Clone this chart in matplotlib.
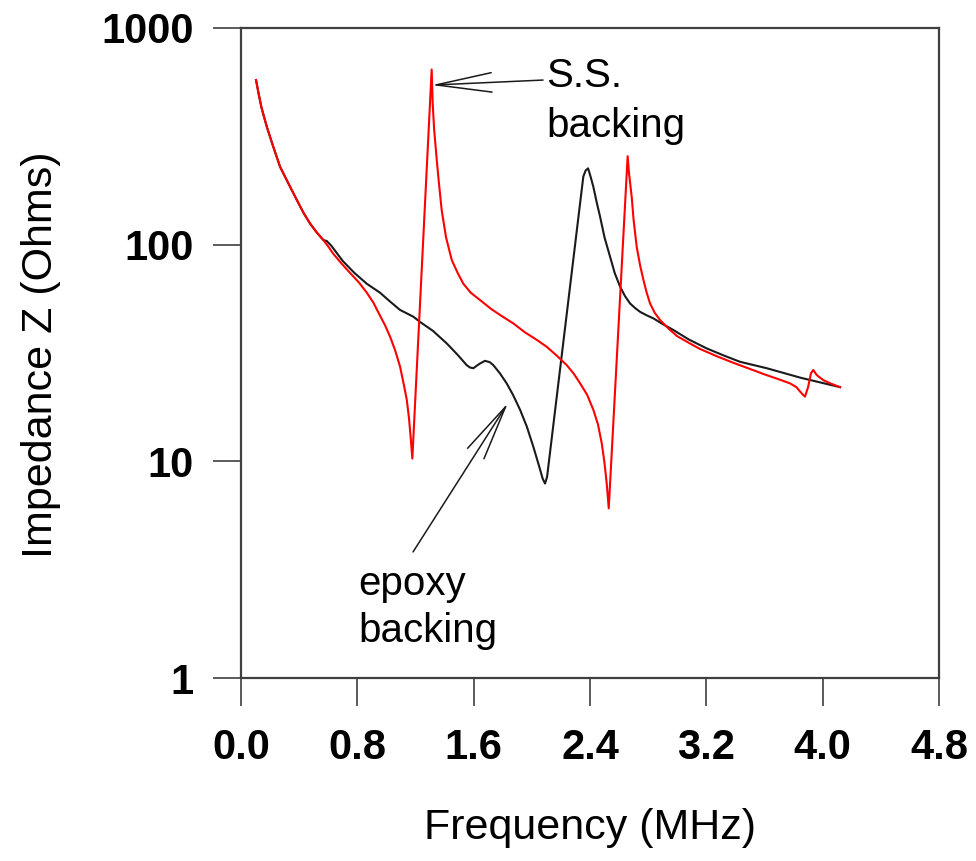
"""
plot.py — electrical impedance of a transducer vs frequency, epoxy vs S.S. backing.

Values read off the reference figure (log-scale impedance).
"""
import matplotlib
matplotlib.use("Agg")
import matplotlib.pyplot as plt
from matplotlib.ticker import FixedLocator, NullLocator, FixedFormatter

# --- epoxy backing (black) ---
freq_epoxy = [0.103, 0.12, 0.14, 0.177, 0.22, 0.268, 0.32, 0.383, 0.43, 0.475,
              0.52, 0.566, 0.589, 0.62, 0.70, 0.78, 0.865, 0.956, 1.02, 1.093,
              1.185, 1.231, 1.32, 1.415, 1.49, 1.552, 1.575, 1.598, 1.62, 1.644,
              1.678, 1.71, 1.735, 1.78, 1.827, 1.87, 1.919, 1.965, 2.01, 2.05,
              2.075, 2.091, 2.105, 2.354, 2.37, 2.387, 2.405, 2.423, 2.445, 2.469,
              2.50, 2.538, 2.57, 2.607, 2.64, 2.675, 2.71, 2.744, 2.79, 2.836,
              2.9, 2.973, 3.08, 3.203, 3.32, 3.432, 3.616, 3.85, 4.12]
z_epoxy = [575, 500, 430, 350, 285, 229, 195, 161, 140, 125,
           114, 105, 104, 99, 84, 74, 66, 60, 55, 50,
           46.5, 44, 40, 35, 31, 27.8, 27.1, 26.9, 27.6, 28.3,
           29.1, 28.7, 27.8, 25.5, 22.9, 20.3, 17.3, 14.5, 11.7, 9.5,
           8.3, 7.9, 8.5, 206, 220, 225, 205, 185, 158, 135,
           108, 88, 74, 64, 58, 53.6, 51, 49, 47.2, 45.7,
           43, 40.4, 36.5, 33.2, 30.8, 28.8, 26.9, 24.3, 22]

# --- stainless-steel backing (red) ---
freq_ss = [0.103, 0.12, 0.14, 0.177, 0.22, 0.268, 0.32, 0.383, 0.43, 0.475,
           0.52, 0.566, 0.60, 0.633, 0.69, 0.75, 0.81, 0.865, 0.91, 0.956,
           0.99, 1.025, 1.06, 1.094, 1.12, 1.14, 1.155, 1.167, 1.178, 1.311,
           1.318, 1.328, 1.346, 1.36, 1.38, 1.41, 1.449, 1.49, 1.529, 1.58,
           1.644, 1.72, 1.80, 1.873, 1.95, 2.03, 2.102, 2.17, 2.24, 2.29,
           2.332, 2.38, 2.423, 2.455, 2.481, 2.50, 2.515, 2.529, 2.659, 2.668,
           2.687, 2.70, 2.721, 2.745, 2.767, 2.79, 2.813, 2.845, 2.882, 2.94,
           3.0, 3.088, 3.157, 3.27, 3.386, 3.5, 3.6, 3.7, 3.776, 3.82,
           3.845, 3.865, 3.879, 3.9, 3.92, 3.936, 3.96, 4.005, 4.06, 4.12]
z_ss = [575, 500, 430, 350, 285, 229, 195, 161, 140, 125,
        114, 105, 98, 91, 82, 74, 67, 60, 54, 47,
        42.5, 37.6, 32.5, 27.3, 22.5, 19.2, 15.8, 12.8, 10.3, 643,
        450, 340, 246, 195, 144, 108, 85, 74, 66, 60,
        55.5, 50.5, 46.5, 43.3, 39.5, 36.5, 33.8, 30.8, 27.8, 25.3,
        22.9, 20.3, 17.3, 14.8, 12.1, 9.8, 7.9, 6.07, 256, 215,
        166, 130, 98, 80, 69, 60, 53.6, 48.5, 44.9, 41,
        37.8, 35, 33, 30.6, 28.5, 26.7, 25.2, 23.9, 22.9, 22,
        21, 20.3, 19.9, 22, 25.5, 26.4, 25, 23.7, 22.8, 22]

x_ticks = [0.0, 0.8, 1.6, 2.4, 3.2, 4.0, 4.8]
x_labels = ["0.0", "0.8", "1.6", "2.4", "3.2", "4.0", "4.8"]
y_ticks = [1, 10, 100, 1000]
y_labels = ["1", "10", "100", "1000"]

INK = "#1a1a1a"
AXIS = "#404040"
RED = "#ff0000"
FONT = "Liberation Sans"


def main() -> None:
    plt.rcParams["font.family"] = [FONT, "DejaVu Sans"]
    fig = plt.figure(figsize=(9.76, 8.61), dpi=100)
    ax = fig.add_axes([0.247, 0.2125, 0.715, 0.755])

    ax.plot(freq_epoxy, z_epoxy, color=INK, lw=1.5, zorder=3)
    ax.plot(freq_ss, z_ss, color=RED, lw=1.5, zorder=4)

    ax.set_yscale("log")
    ax.set_xlim(0, 4.8)
    ax.set_ylim(1, 1000)
    ax.xaxis.set_major_locator(FixedLocator(x_ticks))
    ax.xaxis.set_major_formatter(FixedFormatter(x_labels))
    ax.yaxis.set_major_locator(FixedLocator(y_ticks))
    ax.yaxis.set_major_formatter(FixedFormatter(y_labels))
    ax.yaxis.set_minor_locator(NullLocator())
    ax.xaxis.set_minor_locator(NullLocator())

    for sp in ax.spines.values():
        sp.set_color(AXIS)
        sp.set_linewidth(1.6)
    ax.tick_params(axis="both", direction="out", length=20, width=1.2, color=AXIS,
                   labelsize=30, labelcolor="black")
    ax.tick_params(axis="x", pad=16)
    ax.tick_params(axis="y", pad=14)
    for lab in ax.get_xticklabels() + ax.get_yticklabels():
        lab.set_fontweight("bold")

    ax.set_xlabel("Frequency (MHz)", fontsize=31, va="center")
    ax.set_ylabel("Impedance Z (Ohms)", fontsize=31, va="center")
    ax.xaxis.set_label_coords(0.5, -0.231)
    ax.yaxis.set_label_coords(-0.287, 0.497)

    # open-headed pointer arrows, as in the original
    arrow = dict(arrowstyle="->,head_length=4.0,head_width=0.7", mutation_scale=10,
                 color=INK, lw=1.1, shrinkA=0, shrinkB=0)
    ax.annotate("", xy=(1.311, 545), xytext=(2.077, 575), arrowprops=arrow, zorder=5)
    ax.annotate("", xy=(1.836, 18.6), xytext=(1.183, 3.82), arrowprops=arrow, zorder=5)

    ax.text(2.098, 534, "S.S.", fontsize=29, ha="left", va="baseline")
    ax.text(2.098, 314, "backing", fontsize=29, ha="left", va="baseline")
    ax.text(0.805, 2.415, "epoxy", fontsize=29, ha="left", va="baseline")
    ax.text(0.805, 1.466, "backing", fontsize=29, ha="left", va="baseline")

    fig.savefig("out.png", dpi=100)
    plt.close(fig)


if __name__ == "__main__":
    main()
